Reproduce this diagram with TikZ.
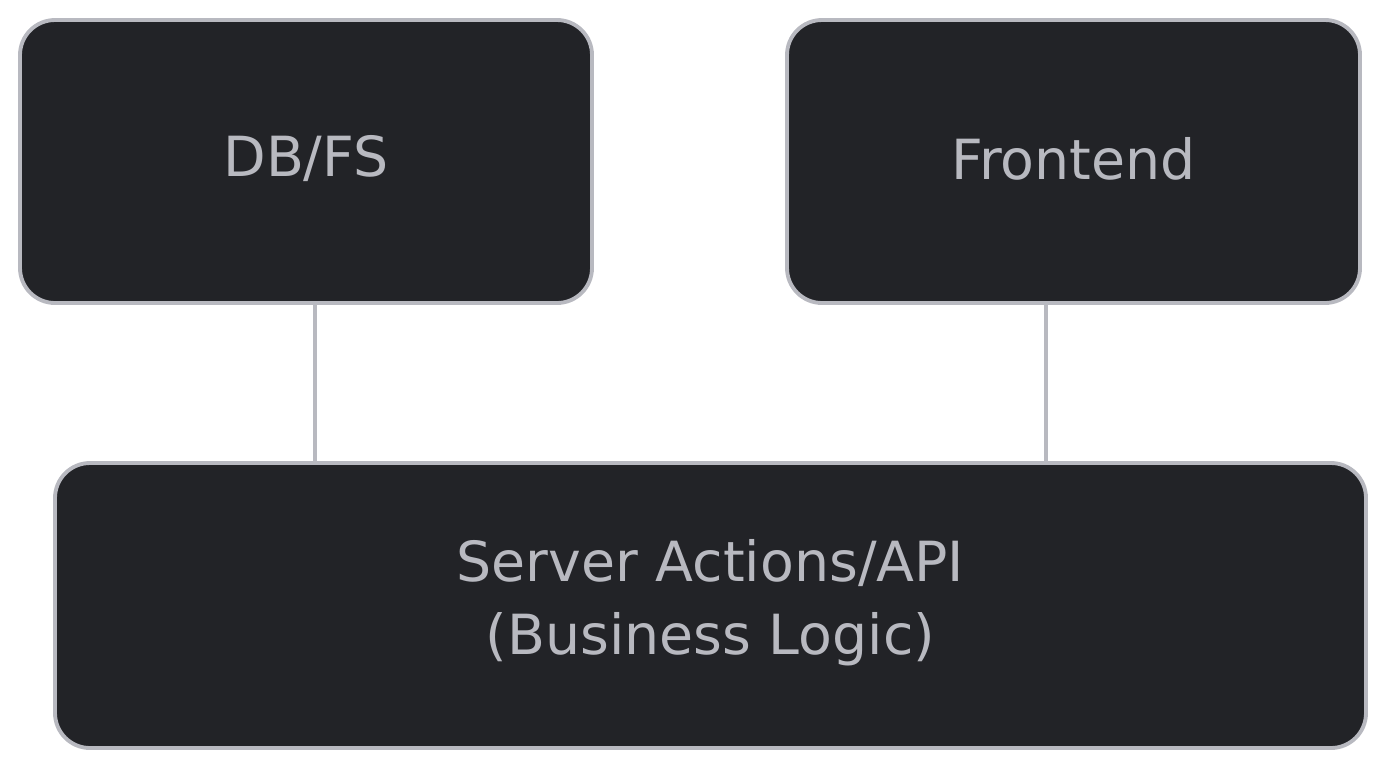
\documentclass[tikz,border=0pt]{standalone}
\usepackage{fontspec}
\setmainfont{DejaVu Sans}
\begin{document}
\begin{tikzpicture}[x=0.02cm,y=-0.02cm,
  boxstyle/.style={draw=edgecol,fill=boxfill,line width=2.2pt,rounded corners=0.7cm,inner sep=0pt},
  labelstyle/.style={text=edgecol,font=\fontsize{31.5}{41.5}\selectfont,align=center},
  linkstyle/.style={draw=edgecol,line width=2.2pt}]
\definecolor{edgecol}{HTML}{B8B9C0}
\definecolor{boxfill}{HTML}{222327}
\useasboundingbox (0,0) rectangle (1386,769);
\node[boxstyle,minimum width=572*0.02cm,minimum height=283*0.02cm] (db) at (306,161.5) {};
\node[boxstyle,minimum width=573*0.02cm,minimum height=283*0.02cm] (fe) at (1073.5,161.5) {};
\node[boxstyle,minimum width=1311*0.02cm,minimum height=285*0.02cm] (api) at (710.5,605.5) {};
\node[labelstyle] (dbt) at (306,158.5) {DB/FS};
\node[labelstyle] (fet) at (1073.5,158.5) {Frontend};
\node[labelstyle] (apit) at (710.5,603) {Server Actions/API\\(Business Logic)};
\coordinate (dbb) at (315,303);
\coordinate (apidb) at (315,463);
\coordinate (feb) at (1046,303);
\coordinate (apife) at (1046,460);
\draw[linkstyle] (db.south -| dbb) -- (api.north -| apidb);
\draw[linkstyle] (fe.south -| feb) -- (api.north -| apife);
\end{tikzpicture}
\end{document}
